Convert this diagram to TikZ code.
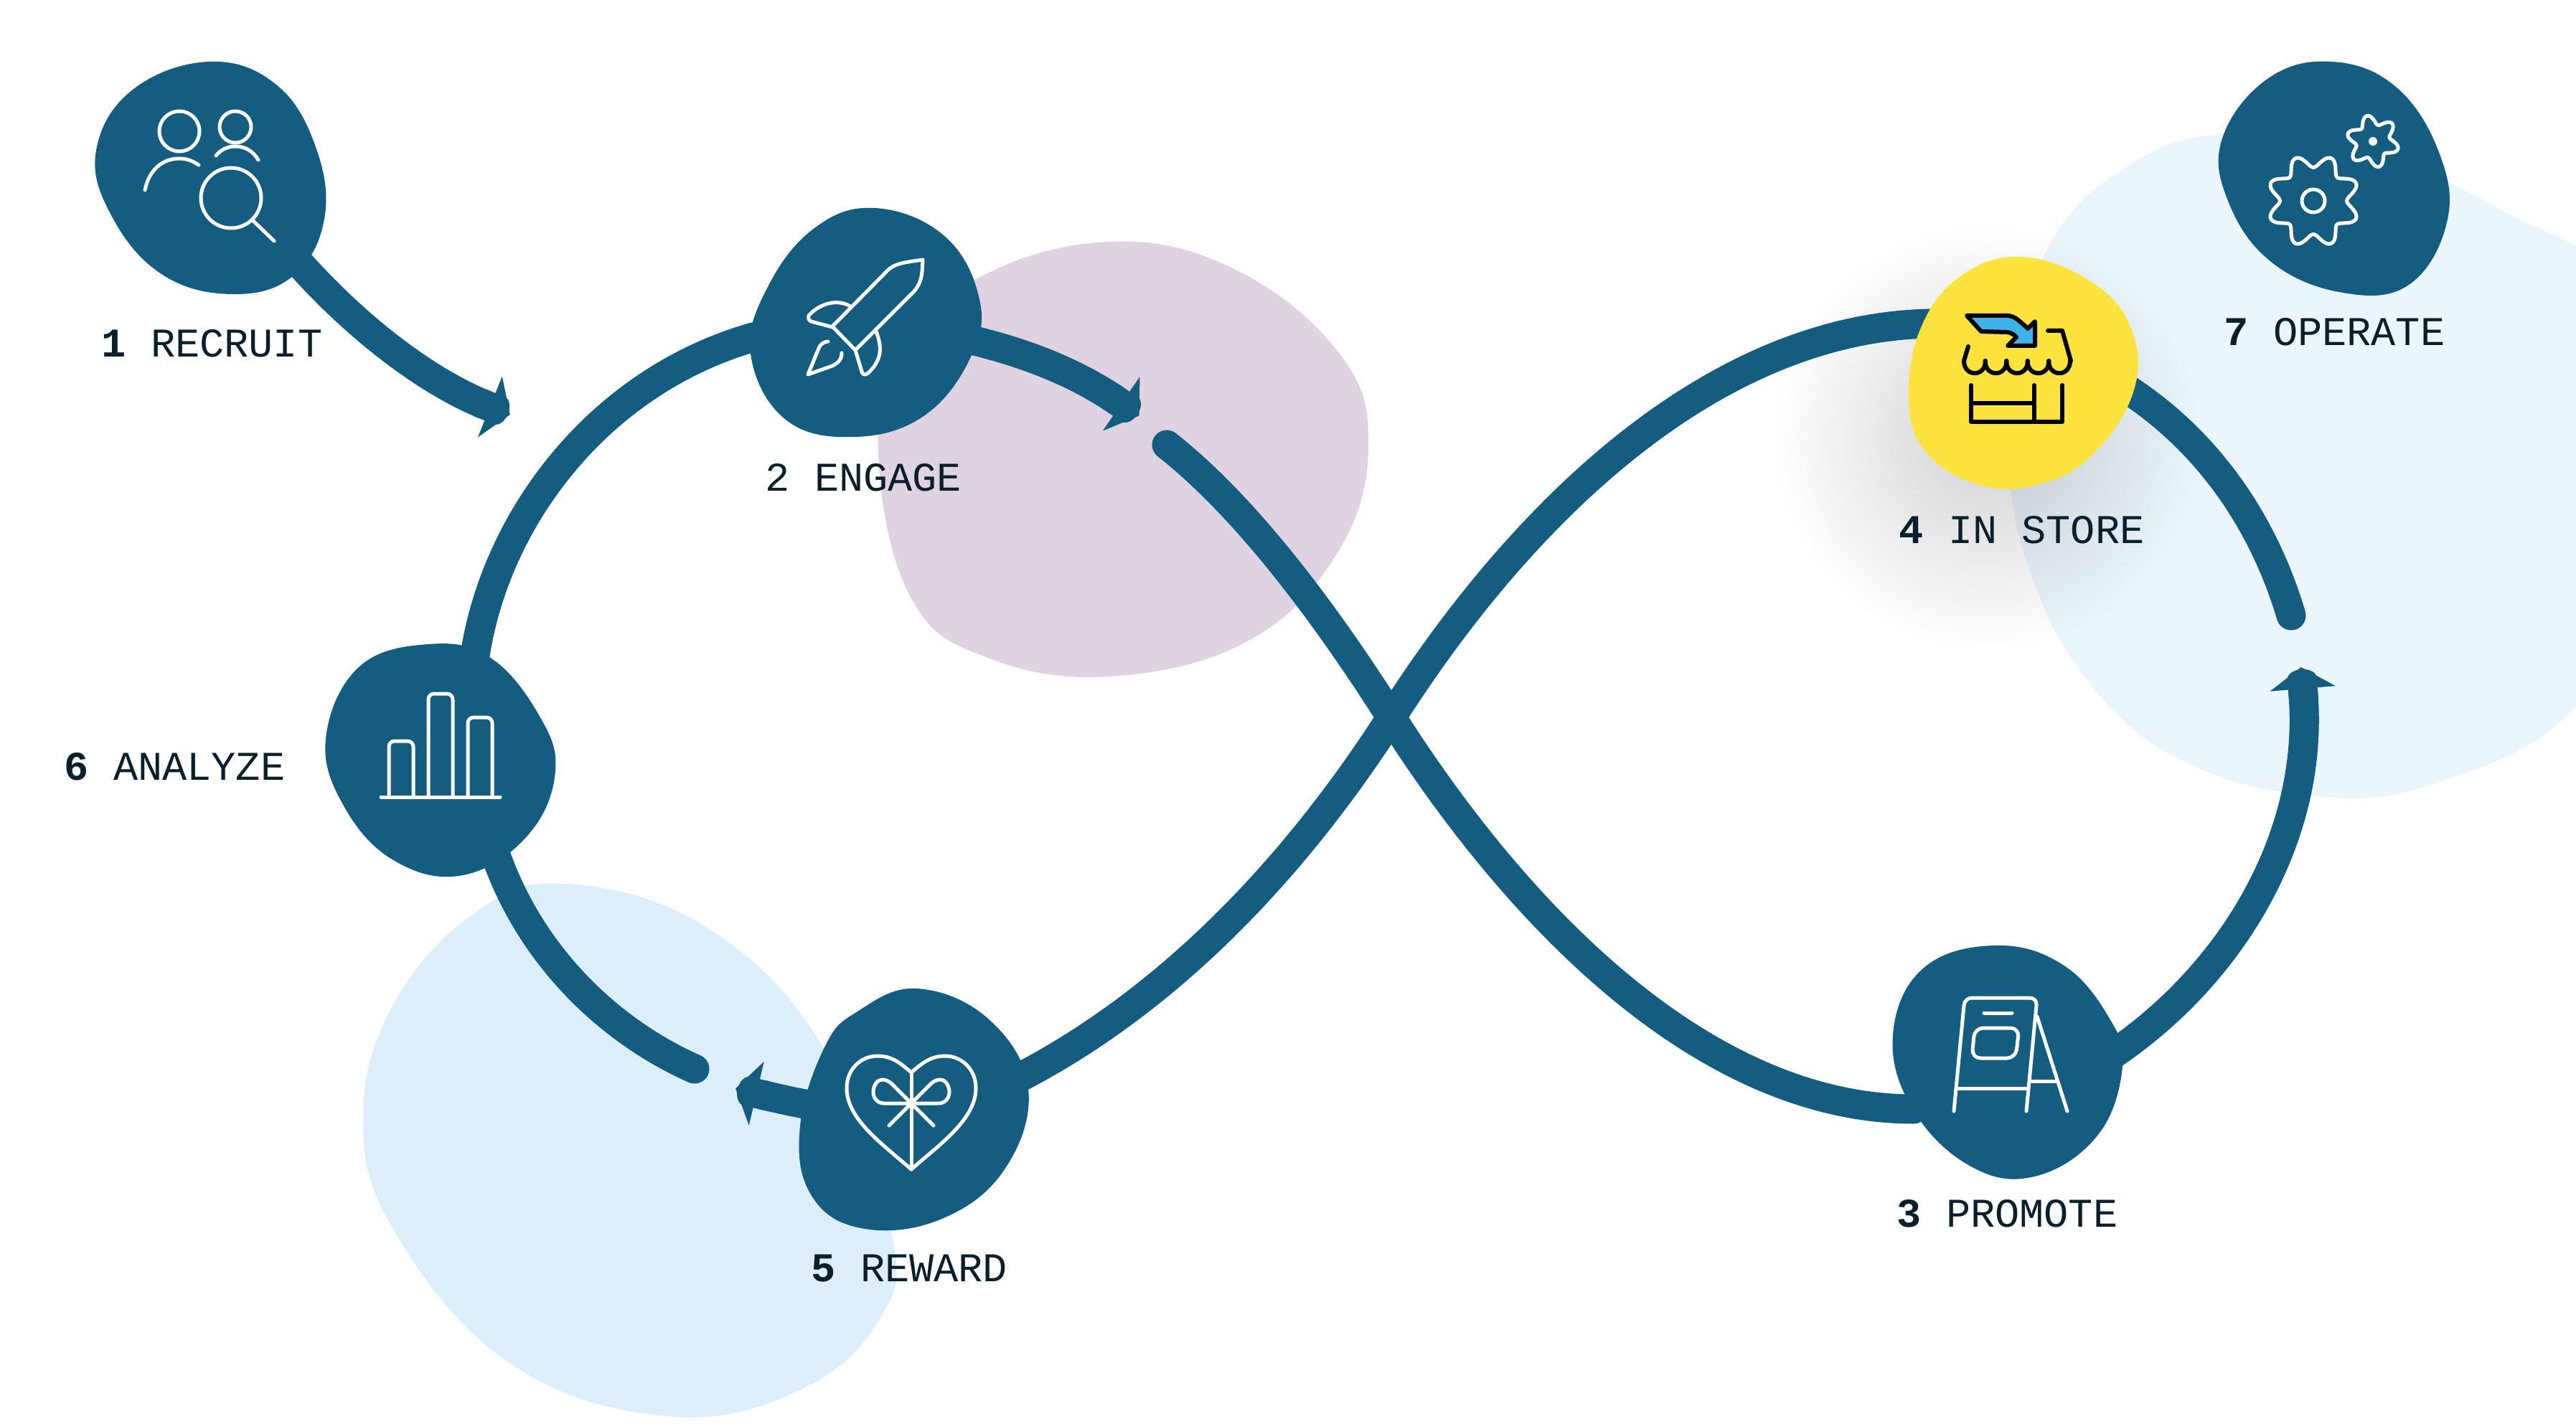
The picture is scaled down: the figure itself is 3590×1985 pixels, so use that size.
\documentclass[tikz,border=0pt]{standalone}
\usepackage{fontspec}
\setmainfont{Liberation Mono}
\usetikzlibrary{arrows.meta,fadings}

\definecolor{flowblue}{HTML}{145C80}
\definecolor{inkdark}{HTML}{0A1F2C}
\definecolor{shoppale}{HTML}{EBF6FC}
\definecolor{rewardpale}{HTML}{DCEEFA}
\definecolor{engagepale}{HTML}{DFD3E1}
\definecolor{storeyellow}{HTML}{FEE23E}
\definecolor{storearrow}{HTML}{3DB3E6}

\tikzfading[name=softshadow, inner color=transparent!82, outer color=transparent!100]

\tikzset{
    flow/.style={draw=flowblue, line width=4.1mm},
    flowdot/.style={flow, line cap=round},
    flowtip/.style={flow, -{Triangle[length=3mm,width=9mm,sep=-1.6mm] Round Cap[length=1.3mm]}},
    blob/.style={fill=flowblue},
    blobline/.style={smooth cycle, tension=0.68},
    whiteicon/.style={draw=white, line width=0.5mm, line cap=round, line join=round},
    blackicon/.style={draw=black, line width=0.6mm, line cap=round, line join=round},
    steplabel/.style={anchor=base west, inner sep=0pt, text=inkdark, font=\fontsize{16.2}{18}\selectfont}
}

\begin{document}
\begin{tikzpicture}[x=0.1mm, y=-0.1mm]
    \useasboundingbox (0,0) rectangle (3590,1985);

    % Define connector end points
    \coordinate (recruit) at (370,310);
    \coordinate (recruitend) at (708,577);
    \coordinate (engage) at (1210,450);
    \coordinate (engageend) at (1585,578);
    \coordinate (promote) at (2880,1508);
    \coordinate (promoteend) at (3207,933);
    \coordinate (store) at (2860,470);
    \coordinate (storeend) at (3193,858);
    \coordinate (reward) at (1300,1555);
    \coordinate (rewardend) at (1028,1518);
    \coordinate (analyze) at (640,1060);
    \coordinate (analyzeend) at (968,1490);
    \coordinate (crossing) at (1939,1000);
    \coordinate (loopstart) at (1626,620);
    \coordinate (loopend) at (2667,1546);
    \coordinate (storein) at (2700,451);

    % Pale background shapes
    \fill[shoppale] plot[blobline] coordinates {(3097,187) (2960,235) (2860,335) (2810,490) (2800,650) (2830,800) (2910,950) (3040,1060) (3228,1110) (3400,1090) (3590,985) (3720,750) (3660,420) (3490,295) (3300,215)};
    \fill[engagepale] plot[blobline] coordinates {(1545,337) (1720,375) (1866,492) (1907,618) (1866,767) (1740,893) (1545,943) (1374,916) (1271,836) (1225,650) (1250,500) (1359,390)};
    \fill[rewardpale] plot[blobline] coordinates {(790,1232) (985,1293) (1147,1460) (1242,1717) (1225,1840) (1110,1940) (927,1974) (710,1900) (550,1717) (506,1557) (550,1397) (664,1271)};

    % Soft shadow under the store
    \fill[black, path fading=softshadow] (2770,610) circle (300);

    % Draw connectors
    \draw[flowtip] (recruit) .. controls (470,440) and (590,530) .. (recruitend);
    \draw[flow] (analyze) -- (663,907) .. controls (695,715) and (840,530) .. (1050,470) -- (engage);
    \draw[flowtip] (engage) .. controls (1400,470) and (1500,520) .. (engageend);
    \draw[flowdot] (loopstart) .. controls (1740,710) and (1850,860) .. (crossing) .. controls (2120,1285) and (2380,1546) .. (loopend);
    \draw[flow] (reward) .. controls (1620,1440) and (1830,1170) .. (crossing) .. controls (2130,700) and (2400,451) .. (storein);
    \draw[flowdot] (store) -- (2970,546) .. controls (3080,620) and (3155,730) .. (storeend);
    \draw[flowtip] (promote) .. controls (3080,1405) and (3228,1190) .. (promoteend);
    \draw[flowtip] (reward) .. controls (1180,1555) and (1100,1535) .. (rewardend);
    \draw[flowdot] (analyze) -- (693,1198) .. controls (745,1340) and (855,1440) .. (analyzeend);

    % Step shapes
    \fill[blob] plot[blobline] coordinates {(292,86) (385,118) (440,205) (452,305) (408,385) (323,410) (225,382) (155,300) (134,210) (185,125)};
    \fill[blob] plot[blobline] coordinates {(1219,290) (1315,328) (1364,413) (1355,493) (1290,578) (1192,609) (1095,585) (1046,493) (1070,400) (1135,318)};
    \fill[blob] plot[blobline] coordinates {(2780,1318) (2875,1345) (2940,1420) (2958,1487) (2923,1583) (2835,1640) (2745,1625) (2665,1545) (2638,1443) (2680,1350)};
    \fill[storeyellow] plot[blobline] coordinates {(2816,358) (2910,390) (2968,453) (2975,540) (2920,630) (2843,675) (2755,675) (2680,625) (2660,545) (2680,450) (2735,383)};
    \fill[blob] plot[blobline] coordinates {(1277,1378) (1377,1420) (1433,1517) (1400,1630) (1310,1700) (1200,1712) (1130,1665) (1115,1570) (1150,1458) (1195,1410)};
    \fill[blob] plot[blobline] coordinates {(597,898) (682,916) (750,995) (774,1075) (735,1165) (645,1220) (550,1200) (480,1125) (454,1030) (500,930)};
    \fill[blob] plot[blobline] coordinates {(3250,86) (3340,122) (3400,215) (3410,310) (3357,397) (3265,408) (3165,365) (3105,280) (3097,193) (3160,110)};

    % Recruit icon
    \draw[whiteicon] (250,183) circle (28);
    \draw[whiteicon] (328,177) circle (22);
    \draw[whiteicon] (202,265) .. controls (208,235) and (228,221) .. (250,221) .. controls (260,221) and (268,224) .. (277,230);
    \draw[whiteicon] (301,217) .. controls (308,208) and (318,204) .. (328,204) .. controls (342,204) and (353,211) .. (360,223);
    \draw[whiteicon] (322,276) circle (42);
    \draw[whiteicon] (353,308) -- (382,336);

    % Engage icon
    \draw[whiteicon] (1160,455) -- (1234,380) .. controls (1246,366) and (1262,366) .. (1286,362) .. controls (1285,380) and (1286,395) .. (1270,410) -- (1192,488) -- cycle;
    \draw[whiteicon] (1185,427) .. controls (1165,415) and (1140,425) .. (1127,440) .. controls (1126,445) and (1128,447) .. (1130,448) -- (1160,456);
    \draw[whiteicon] (1221,462) .. controls (1232,490) and (1225,505) .. (1210,520) .. controls (1205,524) and (1202,522) .. (1201,518) -- (1192,488);
    \draw[whiteicon] (1154,476) .. controls (1145,477) and (1142,482) .. (1140,488) -- (1126,522) -- (1160,510) .. controls (1170,505) and (1173,500) .. (1173,492);

    % Promote icon
    \draw[whiteicon, rounded corners=1mm] (2723,1549) -- (2738,1391) -- (2839,1391) -- (2824,1549);
    \draw[whiteicon] (2728,1517) -- (2825,1517);
    \draw[whiteicon] (2839,1417) -- (2881,1549);
    \draw[whiteicon] (2832,1507) -- (2865,1507);
    \draw[whiteicon] (2765,1412) -- (2804,1412);
    \draw[whiteicon, rounded corners=1.2mm] (2752,1433) -- (2814,1433) -- (2809,1475) -- (2748,1475) -- cycle;

    % Store icon
    \draw[blackicon, fill=storearrow] (2741,440) -- (2799,440) .. controls (2806,441) and (2810,443) .. (2826,458) -- (2836,448) -- (2836,482) -- (2798,482) -- (2810,470) .. controls (2806,465) and (2800,463) .. (2796,463) -- (2761,462) -- cycle;
    \draw[blackicon] (2854,461) -- (2874,461) -- (2886,503);
    \draw[blackicon] (2743,483) -- (2737,503);
    \foreach \scallop in {2737,2766.5,2796,2825.5,2855}
        \draw[blackicon] (\scallop,503) .. controls (\scallop,526) and (\scallop+30,526) .. (\scallop+30,503);
    \draw[blackicon] (2747,537) -- (2747,588) -- (2874,588) -- (2874,537);
    \draw[blackicon] (2835,537) -- (2835,588);
    \draw[blackicon] (2747,562) -- (2835,562);

    % Reward icon
    \draw[whiteicon] (1270,1630) .. controls (1230,1595) and (1180,1560) .. (1180,1517) .. controls (1180,1490) and (1200,1472) .. (1223,1472) .. controls (1243,1472) and (1255,1482) .. (1270,1495) .. controls (1285,1482) and (1297,1472) .. (1317,1472) .. controls (1340,1472) and (1360,1490) .. (1360,1517) .. controls (1360,1560) and (1310,1595) .. (1270,1630) -- cycle;
    \draw[whiteicon] (1270,1495) -- (1270,1630);
    \draw[whiteicon] (1270,1538) -- (1242,1510) .. controls (1225,1497) and (1217,1512) .. (1217,1522) .. controls (1217,1532) and (1224,1538) .. (1232,1538) -- (1308,1538) .. controls (1316,1538) and (1323,1532) .. (1323,1522) .. controls (1323,1512) and (1315,1497) .. (1298,1510) -- cycle;
    \draw[whiteicon] (1239,1569) -- (1270,1538) -- (1301,1569);

    % Analyze icon
    \draw[whiteicon] (531,1111) -- (697,1111);
    \draw[whiteicon, rounded corners=0.8mm] (542,1111) -- (542,1033) -- (576,1033) -- (576,1111);
    \draw[whiteicon, rounded corners=0.8mm] (597,1111) -- (597,967) -- (631,967) -- (631,1111);
    \draw[whiteicon, rounded corners=0.8mm] (652,1111) -- (652,1000) -- (686,1000) -- (686,1111);

    % Operate icon
    \draw[whiteicon] plot[domain=0:360, samples=121, smooth] ({3224+(55.5-9*cos(8*\x))*cos(\x)}, {280+(55.5-9*cos(8*\x))*sin(\x)}) -- cycle;
    \draw[whiteicon] (3224,280) circle (16);
    \draw[whiteicon] plot[domain=0:360, samples=91, smooth] ({3307+(30+6.5*cos(6*\x+258))*cos(\x)}, {197+(30+6.5*cos(6*\x+258))*sin(\x)}) -- cycle;
    \fill[white] (3307,197) circle (6);

    % Step labels
    \node[steplabel] (recruitlabel) at (141,498) {\textbf{1} RECRUIT};
    \node[steplabel] (engagelabel) at (1066,685) {2 ENGAGE};
    \node[steplabel] (promotelabel) at (2643,1710) {\textbf{3} PROMOTE};
    \node[steplabel] (storelabel) at (2646,758) {\textbf{4} IN STORE};
    \node[steplabel] (rewardlabel) at (1130,1786) {\textbf{5} REWARD};
    \node[steplabel] (analyzelabel) at (89,1087) {\textbf{6} ANALYZE};
    \node[steplabel] (operatelabel) at (3099,482) {\textbf{7} OPERATE};
\end{tikzpicture}
\end{document}
